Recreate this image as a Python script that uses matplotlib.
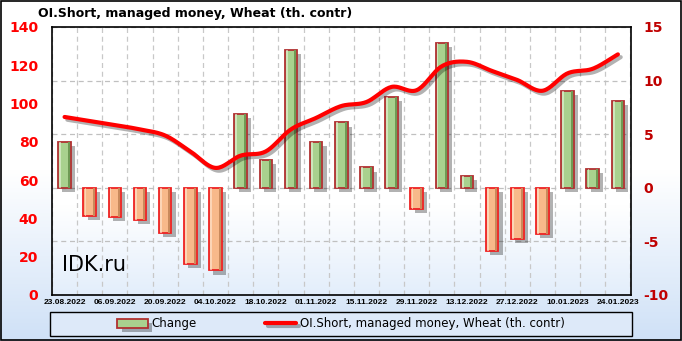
import numpy as np
import matplotlib.pyplot as plt
import matplotlib.patheffects as pe
from matplotlib.colors import LinearSegmentedColormap
from matplotlib.patches import Rectangle

plt.rcParams["axes.unicode_minus"] = False

# weekly dates (every week, labels on every second one)
dates = ["23.08.2022", "30.08.2022", "06.09.2022", "13.09.2022", "20.09.2022",
         "27.09.2022", "04.10.2022", "11.10.2022", "18.10.2022", "25.10.2022",
         "01.11.2022", "08.11.2022", "15.11.2022", "22.11.2022", "29.11.2022",
         "06.12.2022", "13.12.2022", "20.12.2022", "27.12.2022", "03.01.2023",
         "10.01.2023", "17.01.2023", "24.01.2023"]
# weekly change (right axis)
change = [4.3, -2.6, -2.7, -3.0, -4.2, -7.1, -7.7, 6.9, 2.6, 12.9, 4.3, 6.1,
          1.9, 8.5, -2.0, 13.5, 1.1, -5.9, -4.8, -4.3, 9.0, 1.8, 8.1]
# open interest short, managed money (left axis)
oi_short = [93.0, 90.9, 88.8, 86.5, 83.3, 75.0, 66.4, 72.8, 75.0, 86.5, 92.5,
            98.7, 100.8, 108.7, 107.0, 119.5, 121.8, 117.0, 112.3, 106.7,
            115.8, 118.2, 125.7]

title = "OI.Short, managed money, Wheat (th. contr)"
line_label = "OI.Short, managed money, Wheat (th. contr)"


def smooth(y, n=20):
    # catmull-rom through the weekly points, just for drawing
    y = np.asarray(y, float)
    p = np.concatenate([[2 * y[0] - y[1]], y, [2 * y[-1] - y[-2]]])
    xs, ys = [], []
    t = np.linspace(0, 1, n, endpoint=False)
    for i in range(len(y) - 1):
        p0, p1, p2, p3 = p[i], p[i + 1], p[i + 2], p[i + 3]
        seg = 0.5 * ((2 * p1) + (-p0 + p2) * t + (2 * p0 - 5 * p1 + 4 * p2 - p3) * t ** 2
                     + (-p0 + 3 * p1 - 3 * p2 + p3) * t ** 3)
        xs.extend(i + t)
        ys.extend(seg)
    xs.append(len(y) - 1)
    ys.append(y[-1])
    return np.array(xs), np.array(ys)


fig = plt.figure(figsize=(6.82, 3.41), dpi=100)

# figure background gradient
bg = fig.add_axes([0, 0, 1, 1], zorder=-10)
cm_bg = LinearSegmentedColormap.from_list("bg", ["#ffffff", "#ffffff", "#cfe1f7"])
bg.imshow(np.linspace(0, 1, 256).reshape(-1, 1), aspect="auto", cmap=cm_bg,
          extent=[0, 1, 0, 1], origin="upper")
bg.add_patch(Rectangle((0.001, 0.002), 0.997, 0.995, fill=False, lw=1.2,
                       edgecolor="black", transform=bg.transAxes))
# legend box
bg.add_patch(Rectangle((50 / 682, 5 / 341), 582 / 682, 24 / 341, facecolor="#dde9f9",
                       lw=1.0, edgecolor="black", transform=bg.transAxes))
bg.set_xlim(0, 1)
bg.set_ylim(0, 1)
bg.axis("off")

ax = fig.add_axes([52 / 682, 46 / 341, 579 / 682, 268 / 341])
cm_ax = LinearSegmentedColormap.from_list("ax", ["#ffffff", "#ffffff", "#ffffff", "#e3eefb"])
ax.imshow(np.linspace(0, 1, 256).reshape(-1, 1), aspect="auto", cmap=cm_ax,
          extent=[0, 1, 0, 1], origin="upper", transform=ax.transAxes, zorder=0)

x = np.arange(len(dates))
colors = ["#a9d18e" if v >= 0 else "#f8b98a" for v in change]
edges = ["#b03030" if v >= 0 else "#ee2222" for v in change]
shadow = [pe.SimplePatchShadow(offset=(3, -3), shadow_rgbFace="black", alpha=0.3),
          pe.Normal()]
bars = ax.bar(x, change, width=0.5, color=colors, edgecolor=edges, linewidth=1.3,
              zorder=3, label="Change")
for b in bars:
    b.set_path_effects(shadow)
# darker right strip and lighter left strip for the 3D look
for xi, v in zip(x, change):
    dark = "#6f9a55" if v >= 0 else "#c98a5c"
    ax.bar(xi + 0.17, v, width=0.08, color=dark, linewidth=0, zorder=4)
    light = "#e8f5dc" if v >= 0 else "#ffe8d4"
    ax.bar(xi - 0.17, v, width=0.07, color=light, linewidth=0, zorder=4, alpha=0.6)

ax.set_xlim(-0.45, len(dates) - 0.48)
ax.set_ylim(-10, 15)
ax.set_xticks(x[::2])
ax.set_xticklabels(dates[::2], fontsize=6, fontweight="bold",
                   family="Liberation Sans")
ax.tick_params(axis="x", length=0, pad=3)
ax.set_xticks(np.arange(-0.5, len(dates), 1), minor=True)
ax.tick_params(axis="x", which="minor", length=0)
ax.grid(axis="y", color="#c0c0c0", ls=(0, (4, 3)), lw=0.9)
ax.grid(axis="x", which="minor", color="#c8c8c8", ls=(0, (4, 3)), lw=0.9)
ax.set_axisbelow(True)
for s in ax.spines.values():
    s.set_linewidth(1.2)

ax2 = ax.twinx()
ax2.set_ylim(0, 140)
ax2.set_yticks(range(0, 141, 20))
ax2.yaxis.tick_left()
ax2.tick_params(axis="y", length=0, pad=10, labelcolor="#ff0000", labelsize=10)
for lab in ax2.get_yticklabels():
    lab.set_fontweight("bold")
sx, sy = smooth(oi_short)
line, = ax2.plot(sx, sy, color="#ff0000", lw=3.0, solid_capstyle="round", zorder=5,
                 label=line_label,
                 path_effects=[pe.SimpleLineShadow(offset=(2, -2), alpha=0.3), pe.Normal()])
for s in ax2.spines.values():
    s.set_visible(False)

# right axis labels for the change bars (set after twinx)
ax.set_yticks([-10, -5, 0, 5, 10, 15])
ax.yaxis.tick_right()
ax.tick_params(axis="y", length=0, pad=9, labelcolor="#c00000", labelsize=10,
               left=False, labelleft=False, right=False, labelright=True)
for lab in ax.get_yticklabels():
    lab.set_fontweight("bold")

fig.text(38 / 682, 1 - 13 / 341, title, fontsize=9, fontweight="bold",
         va="center", ha="left")
ax.text(0.018, 0.075, "IDK.ru", transform=ax.transAxes, fontsize=15,
        family="DejaVu Sans", va="bottom", ha="left", zorder=6)

leg = fig.legend([bars, line], ["Change", line_label], ncol=2,
                 loc="center", bbox_to_anchor=(341 / 682, 17 / 341),
                 frameon=False, fontsize=8.5,
                 columnspacing=5.8, handlelength=2.6, handletextpad=0.3)

fig.savefig("out.png", dpi=100)
